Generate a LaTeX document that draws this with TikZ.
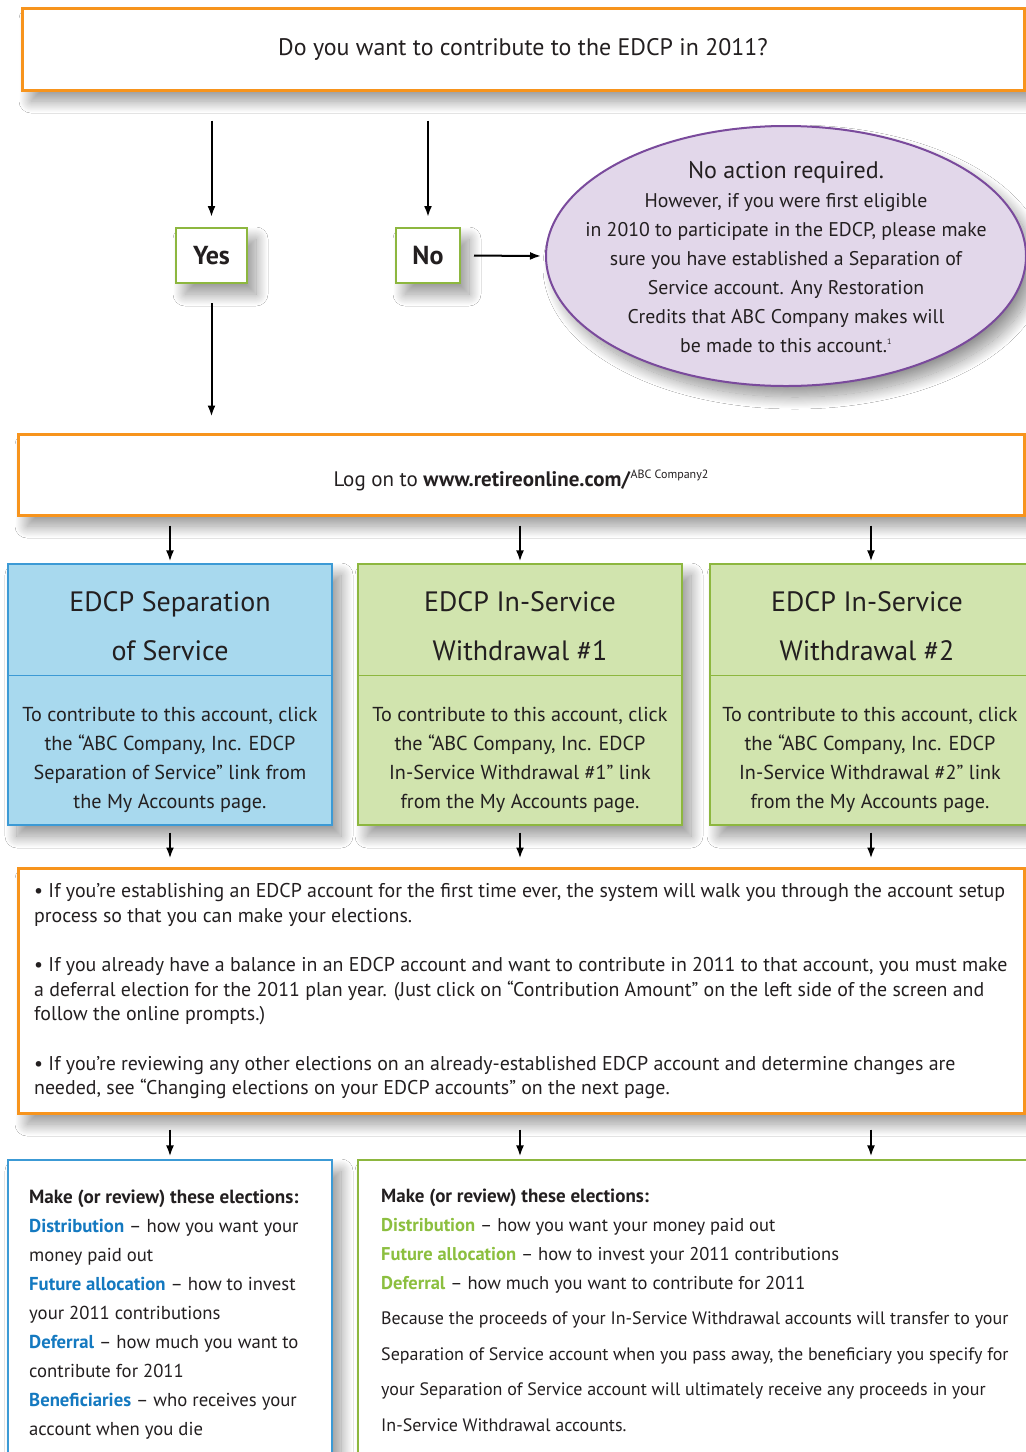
\documentclass[tikz,border=0pt]{standalone}
\usepackage{fontspec}
\setmainfont{PT Sans}
\usetikzlibrary{shadows.blur,arrows.meta,shapes.geometric}
\definecolor{orng}{HTML}{F7941D}
\definecolor{grn}{HTML}{8DB73F}
\definecolor{grnfill}{HTML}{D1E4AE}
\definecolor{blu}{HTML}{3C9AD5}
\definecolor{blufill}{HTML}{A8D9EE}
\definecolor{purp}{HTML}{7A4A9C}
\definecolor{purpfill}{HTML}{E2D7EA}
\definecolor{txtblue}{HTML}{1479C0}
\definecolor{txtgreen}{HTML}{8CBF3F}
\definecolor{ink}{HTML}{231F20}
\begin{document}
\begin{tikzpicture}[x=1pt,y=-1pt,
  shad/.style={blur shadow={shadow xshift=9pt,shadow yshift=-11pt,shadow blur radius=12pt,shadow blur steps=24,shadow opacity=42}},
  orangebox/.style={rectangle,draw=orng,line width=3pt,fill=white,inner sep=0pt,shad,text=ink},
  ynbox/.style={rectangle,draw=grn,line width=2pt,fill=white,inner sep=0pt,minimum height=55pt,shad,
     font=\fontsize{26}{26}\selectfont\bfseries,text=ink},
  colbox/.style={rectangle,line width=1.2pt,inner sep=0pt,minimum width=324pt,minimum height=261pt,shad},
  bluebox/.style={colbox,draw=blu,fill=blufill},
  greenbox/.style={colbox,draw=grn,fill=grnfill},
  ttl/.style={align=center,text=ink,font=\fontsize{28}{49}\selectfont},
  bdy/.style={align=center,text=ink,font=\fontsize{20.2}{29}\selectfont},
  arr/.style={line width=2pt,-{Latex[length=11pt,width=8pt]}},
]
\useasboundingbox (0,0) rectangle (1026,1452);
\clip (0,0) rectangle (1026,1452);
\fill[white] (0,0) rectangle (1026,1452);

% top question
\node[orangebox,minimum width=1002pt,minimum height=82pt,font=\fontsize{23.9}{24}\selectfont]
  (q) at (523,49) {Do you want to contribute to the EDCP in 2011?};

% yes / no
\node[ynbox,minimum width=71pt] (yes) at (211.5,255.5) {Yes};
\node[ynbox,minimum width=64pt] (no) at (428,255.5) {No};

% ellipse
\node[ellipse,draw=purp,fill=purpfill,line width=2pt,minimum width=480pt,minimum height=260pt,
  inner sep=0pt,shad] (na) at (786,256) {};
\node[align=center,text=ink,inner sep=0pt,font=\fontsize{19.8}{29}\selectfont]
  (nat) at (786,257) {{\fontsize{24}{30}\selectfont No action required.}\\
  However, if you were first eligible\\
  in 2010 to participate in the EDCP, please make\\
  sure you have established a Separation of\\
  Service account. Any Restoration\\
  Credits that ABC Company makes will\\
  be made to this account.\textsuperscript{\fontsize{8}{8}\selectfont 1}};

% log on
\node[orangebox,minimum width=1006pt,minimum height=81pt] (log) at (521,474.5) {};
\node[inner sep=0pt,text=ink,font=\fontsize{21}{21}\selectfont] (logt) at (521,480)
  {Log on to \textbf{www.retireonline.com/}\raisebox{8pt}{\fontsize{12}{12}\selectfont ABC Company2}};

% three account boxes
\node[bluebox] (sep) at (170,694.5) {};
\node[greenbox] (isw1) at (520,694.5) {};
\node[greenbox,minimum width=322pt] (isw2) at (871,694.5) {};
\draw[blu,line width=1.2pt] ([yshift=-112pt]sep.north west) -- ([yshift=-112pt]sep.north east);
\draw[grn,line width=1.2pt] ([yshift=-112pt]isw1.north west) -- ([yshift=-112pt]isw1.north east);
\draw[grn,line width=1.2pt] ([yshift=-112pt]isw2.north west) -- ([yshift=-112pt]isw2.north east);

\node[ttl] (sept) at (170,626) {EDCP Separation\\of Service};
\node[ttl] (isw1t) at (520,626) {EDCP In-Service\\Withdrawal \#1};
\node[ttl] (isw2t) at (867,626) {EDCP In-Service\\Withdrawal \#2};

\node[bdy] (sepb) at (170,760) {To contribute to this account, click\\the “ABC Company, Inc. EDCP\\Separation of Service” link from\\the My Accounts page.};
\node[bdy] (isw1b) at (520,760) {To contribute to this account, click\\the “ABC Company, Inc. EDCP\\In-Service Withdrawal \#1” link\\from the My Accounts page.};
\node[bdy] (isw2b) at (870,760) {To contribute to this account, click\\the “ABC Company, Inc. EDCP\\In-Service Withdrawal \#2” link\\from the My Accounts page.};

% big instructions box
\node[orangebox,minimum width=1006pt,minimum height=245pt] (big) at (521,990.5) {};
\node[anchor=north west,align=left,text=ink,inner sep=0pt,font=\fontsize{19.9}{24.7}\selectfont] (bigt) at (34,883)
{• If you’re establishing an EDCP account for the first time ever, the system will walk you through the account setup\\
process so that you can make your elections.\\[24.7pt]
• If you already have a balance in an EDCP account and want to contribute in 2011 to that account, you must make\\
a deferral election for the 2011 plan year. (Just click on “Contribution Amount” on the left side of the screen and\\
follow the online prompts.)\\[24.7pt]
• If you’re reviewing any other elections on an already-established EDCP account and determine changes are\\
needed, see “Changing elections on your EDCP accounts” on the next page.};

% bottom boxes
\node[rectangle,draw=blu,line width=1.2pt,fill=white,minimum width=324pt,minimum height=300pt,shad] (bl) at (170,1310) {};
\node[rectangle,draw=grn,line width=1.2pt,fill=white,minimum width=672pt,minimum height=300pt,shad] (br) at (694,1310) {};

\node[anchor=north west,align=left,text=ink,inner sep=0pt,font=\fontsize{18.7}{29}\selectfont] (blt) at (29,1190)
{{\fontsize{19.1}{29}\selectfont\textbf{Make (or review) these elections:}}\\
\textcolor{txtblue}{\textbf{Distribution}} – how you want your\\
money paid out\\
\textcolor{txtblue}{\textbf{Future allocation}} – how to invest\\
your 2011 contributions\\
\textcolor{txtblue}{\textbf{Deferral}} – how much you want to\\
contribute for 2011\\
\textcolor{txtblue}{\textbf{Beneficiaries}} – who receives your\\
account when you die};

\node[anchor=north west,align=left,text=ink,inner sep=0pt,font=\fontsize{18}{29}\selectfont] (brt) at (381,1189)
{{\fontsize{19}{29}\selectfont\textbf{Make (or review) these elections:}}\\
{\fontsize{18.5}{29}\selectfont\textcolor{txtgreen}{\textbf{Distribution}} – how you want your money paid out}\\
{\fontsize{18.5}{29}\selectfont\textcolor{txtgreen}{\textbf{Future allocation}} – how to invest your 2011 contributions}\\
{\fontsize{18.5}{29}\selectfont\textcolor{txtgreen}{\textbf{Deferral}} – how much you want to contribute for 2011}\\[6pt]
Because the proceeds of your In-Service Withdrawal accounts will transfer to your\\[6.5pt]
Separation of Service account when you pass away, the beneficiary you specify for\\[6.5pt]
your Separation of Service account will ultimately receive any proceeds in your\\[6.5pt]
In-Service Withdrawal accounts.};

% connectors
\draw[arr,shorten <=29pt,shorten >=10pt] (q.south -| yes) -- (yes.north);
\draw[arr,shorten <=29pt,shorten >=10pt] (q.south -| no) -- (no.north);
\draw[arr,shorten <=13pt,shorten >=4pt] (no.east) -- (na.west);
\draw[arr,shorten <=19pt,shorten >=16pt] (yes.south) -- (log.north -| yes);
\draw[arr,shorten <=9pt,shorten >=2pt] (log.south -| sep) -- (sep.north);
\draw[arr,shorten <=9pt,shorten >=2pt] (log.south -| isw1) -- (isw1.north);
\draw[arr,shorten <=9pt,shorten >=2pt] (log.south -| isw2) -- (isw2.north);
\draw[arr,shorten <=7pt,shorten >=8pt] (sep.south) -- (big.north -| sep);
\draw[arr,shorten <=7pt,shorten >=8pt] (isw1.south) -- (big.north -| isw1);
\draw[arr,shorten <=7pt,shorten >=8pt] (isw2.south) -- (big.north -| isw2);
\draw[arr,shorten <=15pt,shorten >=3pt] (big.south -| sep) -- (bl.north -| sep);
\draw[arr,shorten <=15pt,shorten >=3pt] (big.south -| isw1) -- (br.north -| isw1);
\draw[arr,shorten <=15pt,shorten >=3pt] (big.south -| isw2) -- (br.north -| isw2);
\end{tikzpicture}
\end{document}
